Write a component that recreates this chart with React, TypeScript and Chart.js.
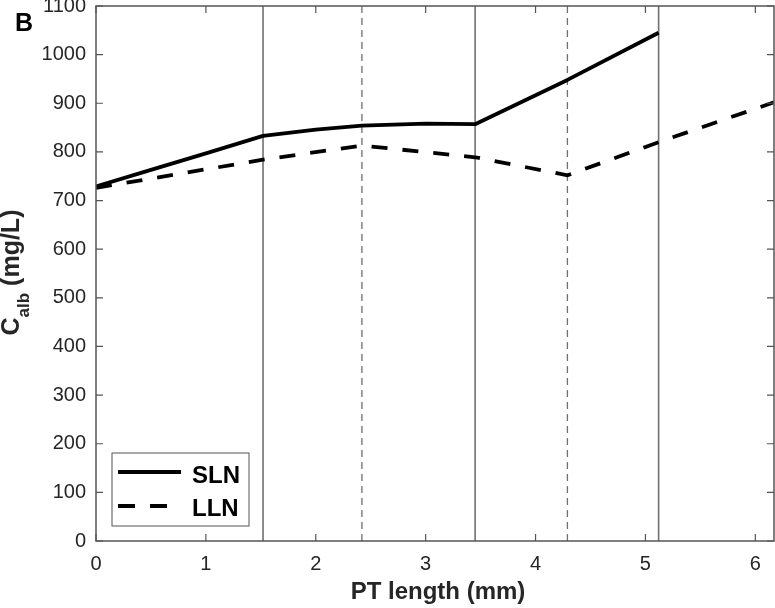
import React, { useEffect, useRef } from "react";
import { Chart, registerables } from "chart.js";

Chart.register(...registerables);

// ---- data ----
const slnX = [0, 0.5, 1.0, 1.52, 2.0, 2.42, 3.0, 3.45, 4.29, 5.12];
const slnY = [729, 763, 797, 833, 846, 854, 858, 857, 948, 1045];

const llnX = [0, 1.52, 2.42, 3.45, 4.29, 5.12, 6.17];
const llnY = [726, 784, 813, 789, 752, 820, 902];

const solidBoundaries = [1.52, 3.45, 5.12];
const dashedBoundaries = [2.42, 4.29];

const xTicks = [0, 1, 2, 3, 4, 5, 6];
const yTicks = [0, 100, 200, 300, 400, 500, 600, 700, 800, 900, 1000, 1100];

const xMin = 0;
const xMax = 6.17;
const yMin = 0;
const yMax = 1100;

const seriesNames = ["SLN", "LLN"];
const xTitle = "PT length (mm)";
const yTitleMain = "C";
const yTitleSub = "alb";
const yTitleRest = " (mg/L)";
const panelLabel = "B";

const FONT = '"Liberation Sans", Arial, Helvetica, sans-serif';
const AXIS_COLOR = "#555555";
const TEXT_COLOR = "#262626";

const toPoints = (xs: number[], ys: number[]) => xs.map((x, i) => ({ x, y: ys[i] }));

const decorPlugin = {
  id: "decor",
  afterDatasetsDraw(chart: any) {
    const ctx = chart.ctx as CanvasRenderingContext2D;
    const { left, right, top, bottom } = chart.chartArea;
    const xs = chart.scales.x;
    const ys = chart.scales.y;
    ctx.save();

    // frame
    ctx.strokeStyle = AXIS_COLOR;
    ctx.lineWidth = 1.5;
    ctx.strokeRect(left, top, right - left, bottom - top);

    // inward ticks
    const tl = 7;
    ctx.lineWidth = 1.2;
    ctx.beginPath();
    for (const v of yTicks) {
      const py = ys.getPixelForValue(v);
      ctx.moveTo(left, py);
      ctx.lineTo(left + tl, py);
      ctx.moveTo(right, py);
      ctx.lineTo(right - tl, py);
    }
    for (const v of xTicks) {
      const px = xs.getPixelForValue(v);
      ctx.moveTo(px, bottom);
      ctx.lineTo(px, bottom - tl);
      ctx.moveTo(px, top);
      ctx.lineTo(px, top + tl);
    }
    ctx.stroke();

    // legend
    const bx = left + 16;
    const by = bottom - 88;
    const bw = 137;
    const bh = 73;
    ctx.fillStyle = "#ffffff";
    ctx.fillRect(bx, by, bw, bh);
    ctx.strokeStyle = AXIS_COLOR;
    ctx.lineWidth = 1;
    ctx.strokeRect(bx, by, bw, bh);

    ctx.strokeStyle = "#000000";
    ctx.lineWidth = 3.8;
    ctx.lineCap = "butt";
    ctx.setLineDash([]);
    ctx.beginPath();
    ctx.moveTo(bx + 6, by + 19);
    ctx.lineTo(bx + 69, by + 19);
    ctx.stroke();
    ctx.setLineDash([17, 15]);
    ctx.beginPath();
    ctx.moveTo(bx + 6, by + 53);
    ctx.lineTo(bx + 55, by + 53);
    ctx.stroke();
    ctx.setLineDash([]);

    ctx.fillStyle = "#000000";
    ctx.font = `bold 24px ${FONT}`;
    ctx.textAlign = "left";
    ctx.textBaseline = "alphabetic";
    ctx.fillText(seriesNames[0], bx + 80, by + 30);
    ctx.fillText(seriesNames[1], bx + 80, by + 63);

    // x title
    ctx.fillStyle = TEXT_COLOR;
    ctx.font = `bold 24px ${FONT}`;
    ctx.textAlign = "center";
    ctx.fillText(xTitle, (left + right) / 2 + 3, 599);

    // y title with subscript
    ctx.save();
    const cy = (top + bottom) / 2 - 1;
    ctx.translate(19, cy);
    ctx.rotate(-Math.PI / 2);
    const mainFont = `bold 25px ${FONT}`;
    const subFont = `bold 17px ${FONT}`;
    ctx.font = mainFont;
    const w1 = ctx.measureText(yTitleMain).width;
    const w3 = ctx.measureText(yTitleRest).width;
    ctx.font = subFont;
    const w2 = ctx.measureText(yTitleSub).width;
    const total = w1 + w2 + w3;
    let x0 = -total / 2;
    ctx.textAlign = "left";
    ctx.font = mainFont;
    ctx.fillText(yTitleMain, x0, 0);
    x0 += w1;
    ctx.font = subFont;
    ctx.fillText(yTitleSub, x0, 10);
    x0 += w2;
    ctx.font = mainFont;
    ctx.fillText(yTitleRest, x0, 0);
    ctx.restore();

    // panel label
    ctx.fillStyle = "#000000";
    ctx.font = `bold 25px ${FONT}`;
    ctx.textAlign = "left";
    ctx.fillText(panelLabel, 15, 31);

    ctx.restore();
  },
};

export default function App() {
  const ref = useRef<HTMLCanvasElement | null>(null);

  useEffect(() => {
    if (!ref.current) return;
    const vline = (x: number, dashed: boolean) => ({
      data: [
        { x, y: yMin },
        { x, y: yMax },
      ],
      borderColor: "#707070",
      borderWidth: dashed ? 1.3 : 1.6,
      borderDash: dashed ? [7, 5] : [],
      pointRadius: 0,
      fill: false,
    });
    const chart = new Chart(ref.current, {
      type: "line",
      data: {
        datasets: [
          {
            label: seriesNames[0],
            data: toPoints(slnX, slnY),
            borderColor: "#000000",
            borderWidth: 3.8,
            pointRadius: 0,
            tension: 0,
            borderJoinStyle: "round",
            fill: false,
          },
          {
            label: seriesNames[1],
            data: toPoints(llnX, llnY),
            borderColor: "#000000",
            borderWidth: 3.8,
            borderDash: [16, 15],
            borderCapStyle: "butt",
            pointRadius: 0,
            tension: 0,
            fill: false,
          },
          ...solidBoundaries.map((x) => vline(x, false)),
          ...dashedBoundaries.map((x) => vline(x, true)),
        ] as any,
      },
      options: {
        animation: false,
        responsive: false,
        devicePixelRatio: 1,
        layout: { padding: { top: 6, right: 1, left: 0, bottom: 0 } },
        plugins: {
          legend: { display: false },
          tooltip: { enabled: false },
        },
        scales: {
          x: {
            type: "linear",
            min: xMin,
            max: xMax,
            grid: { display: false, drawTicks: false },
            border: { display: false },
            ticks: {
              padding: 11,
              color: TEXT_COLOR,
              font: { family: FONT, size: 20 },
              maxRotation: 0,
              callback: (v: any) => String(v),
            },
            afterBuildTicks: (s: any) => {
              s.ticks = xTicks.map((v) => ({ value: v }));
            },
            afterFit: (s: any) => {
              s.height = 67;
              s.paddingLeft = 0;
              s.paddingRight = 0;
            },
          },
          y: {
            type: "linear",
            min: yMin,
            max: yMax,
            grid: { display: false, drawTicks: false },
            border: { display: false },
            ticks: {
              padding: 10,
              color: TEXT_COLOR,
              font: { family: FONT, size: 20 },
              callback: (v: any) => String(v),
            },
            afterBuildTicks: (s: any) => {
              s.ticks = yTicks.map((v) => ({ value: v }));
            },
            afterFit: (s: any) => {
              s.width = 96;
              s.paddingTop = 0;
              s.paddingBottom = 0;
            },
          },
        },
      },
      plugins: [decorPlugin],
    });
    return () => chart.destroy();
  }, []);

  return (
    <div style={{ position: "absolute", left: 0, top: 0, width: 775, height: 608, background: "#fff" }}>
      <canvas ref={ref} width={775} height={608} style={{ display: "block" }} />
    </div>
  );
}
